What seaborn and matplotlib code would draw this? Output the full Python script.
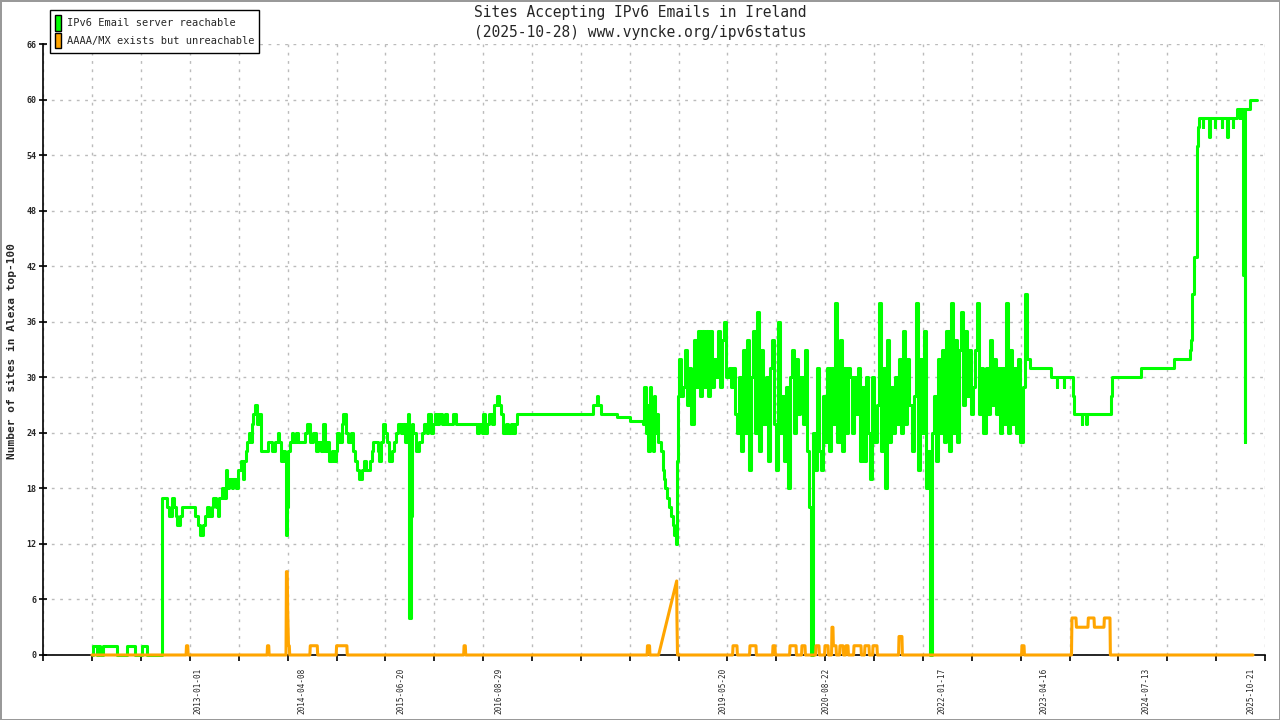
import numpy as np
import pandas as pd
import seaborn as sns
import matplotlib.pyplot as plt
from matplotlib.patches import Patch

# data, x in decimal years
green_early_years = [2011.72, 2011.722, 2011.765, 2011.77, 2011.78, 2011.805, 2011.81, 2011.84, 2011.845,
                     2012.01, 2012.015, 2012.13, 2012.135, 2012.23, 2012.235, 2012.31, 2012.315, 2012.38,
                     2012.385, 2012.56,
                     2012.566, 2012.627, 2012.651, 2012.679, 2012.708, 2012.728, 2012.748, 2012.781, 2012.801,
                     2012.963, 2013.004, 2013.024, 2013.056, 2013.085, 2013.105, 2013.137, 2013.166, 2013.186,
                     2013.218, 2013.239, 2013.259, 2013.287, 2013.316, 2013.336, 2013.356, 2013.381, 2013.409,
                     2013.429, 2013.462, 2013.49, 2013.518, 2013.543, 2013.559, 2013.579, 2013.599, 2013.616,
                     2013.64, 2013.652, 2013.672, 2013.693, 2013.721, 2013.741, 2013.761, 2013.786, 2013.834,
                     2013.855, 2013.895, 2013.936, 2013.968, 2013.988, 2014.009, 2014.037, 2014.057, 2014.073,
                     2014.086, 2014.098, 2014.118, 2014.139, 2014.159, 2014.191, 2014.22, 2014.26, 2014.301,
                     2014.329, 2014.361, 2014.402, 2014.434, 2014.463, 2014.491, 2014.515, 2014.544, 2014.572,
                     2014.596, 2014.625, 2014.653, 2014.677, 2014.694, 2014.718, 2014.746, 2014.767, 2014.795,
                     2014.827, 2014.856, 2014.88, 2014.908, 2014.937, 2014.961, 2014.99, 2015.018, 2015.042,
                     2015.091, 2015.111, 2015.131, 2015.192, 2015.204, 2015.224, 2015.245, 2015.273, 2015.301,
                     2015.326, 2015.354, 2015.382, 2015.407, 2015.435, 2015.464, 2015.488, 2015.516, 2015.536,
                     2015.557, 2015.569, 2015.585, 2015.597, 2015.618, 2015.65, 2015.69, 2015.719, 2015.747,
                     2015.779, 2015.8, 2015.828, 2015.853, 2015.881, 2015.909, 2015.934, 2015.962, 2016.003,
                     2016.031, 2016.063, 2016.104, 2016.137, 2016.225, 2016.266, 2016.388, 2016.42, 2016.448,
                     2016.468, 2016.489, 2016.517, 2016.541, 2016.57, 2016.598, 2016.63,
                     2016.664, 2016.685, 2016.713, 2016.745, 2016.774, 2016.802, 2016.826, 2016.855, 2016.875,
                     2017.787, 2017.807, 2017.847, 2017.868, 2017.896, 2017.95, 2018.1, 2018.25, 2018.415,
                     2018.423, 2018.443, 2018.455, 2018.476, 2018.496, 2018.512, 2018.528, 2018.545, 2018.561,
                     2018.577, 2018.597, 2018.617, 2018.633, 2018.65, 2018.664, 2018.678, 2018.692, 2018.707,
                     2018.723, 2018.739, 2018.755, 2018.771, 2018.785, 2018.8, 2018.812, 2018.82, 2018.832]
green_early_vals = [0, 1, 1, 0, 1, 1, 0, 0, 1,
                    1, 0, 0, 1, 1, 0, 0, 1, 1,
                    0, 0,
                    17, 16, 15, 17, 16, 15, 14, 15, 16,
                    15, 14, 13, 14, 15, 16, 15, 16, 17,
                    16, 15, 17, 18, 17, 20, 18, 19, 18,
                    19, 18, 20, 21, 19, 21, 22, 23, 24,
                    23, 25, 26, 27, 25, 26, 22, 22, 22,
                    23, 22, 23, 24, 23, 21, 22, 21, 13,
                    16, 22, 23, 24, 23, 24, 23, 23, 24,
                    25, 23, 24, 22, 23, 22, 25, 22, 23,
                    21, 22, 21, 22, 24, 23, 25, 26, 24,
                    23, 24, 22, 21, 20, 19, 20, 21, 20,
                    21, 22, 23, 22, 21, 23, 25, 24, 23,
                    21, 22, 23, 24, 25, 24, 25, 23, 25,
                    26, 4, 15, 25, 24, 22, 23, 24, 25,
                    24, 26, 24, 25, 26, 25, 26, 25, 26,
                    25, 25, 26, 25, 25, 25, 24, 25, 24,
                    26, 24, 25, 26, 25, 27, 28,
                    27, 26, 24, 25, 24, 25, 24, 25, 26,
                    26, 27, 28, 27, 26, 26, 25.7, 25.3, 25,
                    29, 24, 27, 22, 29, 24, 22, 28, 24,
                    26, 23, 23, 22, 20, 19, 18, 18, 17,
                    16, 16, 15, 14, 13, 13, 12, 21, 28]

# dense daily-ish part 2018.85 .. 2023.10
noisy_start = 2018.85
noisy_step = 0.025
noisy_vals = [32, 28, 29, 33, 27, 31, 25, 34, 29, 35,
              28, 35, 29, 35, 28, 35, 29, 32, 30, 35,
              29, 34, 36, 30, 31, 29, 31, 26, 24, 30,
              22, 33, 24, 34, 20, 30, 35, 24, 37, 22,
              33, 25, 30, 21, 31, 34, 25, 20, 36, 24,
              28, 21, 29, 18, 30, 33, 24, 32, 26, 30,
              25, 33, 22, 16, 0, 24, 20, 31, 22, 20,
              28, 23, 31, 22, 31, 25, 38, 23, 34, 22,
              31, 24, 31, 30, 24, 30, 26, 31, 21, 29,
              21, 30, 24, 19, 30, 23, 27, 38, 22, 31,
              18, 34, 23, 29, 24, 30, 25, 32, 24, 35,
              25, 32, 27, 22, 28, 38, 20, 32, 24, 35,
              18, 22, 0, 24, 28, 21, 32, 24, 33, 23,
              35, 22, 38, 24, 34, 23, 33, 37, 27, 35,
              28, 33, 26, 29, 33, 38, 26, 31, 24, 31,
              26, 34, 27, 32, 26, 31, 24, 31, 25, 38,
              24, 33, 25, 31, 24, 32, 23, 29, 39, 32, 32]

green_tail_years = [2023.12, 2023.36, 2023.37, 2023.44, 2023.443, 2023.45, 2023.52, 2023.526, 2023.533,
                    2023.625, 2023.633, 2023.645, 2023.652, 2023.74, 2023.744, 2023.75, 2023.795, 2023.798,
                    2023.805, 2024.09, 2024.095, 2024.105, 2024.11, 2024.46, 2024.468, 2024.855, 2024.87,
                    2025.05, 2025.06, 2025.072, 2025.085, 2025.09, 2025.105, 2025.11, 2025.135, 2025.145,
                    2025.155, 2025.17, 2025.21, 2025.215, 2025.22, 2025.29, 2025.298, 2025.305, 2025.36,
                    2025.365, 2025.37, 2025.44, 2025.445, 2025.45, 2025.51, 2025.516, 2025.522, 2025.575,
                    2025.578, 2025.585, 2025.625, 2025.63, 2025.665, 2025.669, 2025.675, 2025.698, 2025.705,
                    2025.72, 2025.726, 2025.735, 2025.77, 2025.79, 2025.875]
green_tail_vals = [31, 31, 30, 30, 29, 30, 30, 29, 30,
                   30, 28, 28, 26, 26, 25, 26, 26, 25,
                   26, 26, 28, 28, 30, 30, 31, 31, 32,
                   32, 33, 34, 34, 39, 39, 43, 43, 55,
                   57, 58, 58, 57, 58, 58, 56, 58, 58,
                   57, 58, 58, 57, 58, 58, 56, 58, 58,
                   57, 58, 58, 59, 59, 58, 59, 59, 41,
                   41, 23, 59, 59, 60, 60]

orange_years = [2011.71, 2012.855, 2012.86, 2012.875, 2012.88,
                2013.84, 2013.845, 2013.86, 2013.865,
                2014.07, 2014.075, 2014.085, 2014.09, 2014.1, 2014.11, 2014.115,
                2014.36, 2014.365, 2014.45, 2014.455,
                2014.68, 2014.685, 2014.81, 2014.815,
                2016.23, 2016.235, 2016.25, 2016.255,
                2018.46, 2018.465, 2018.49, 2018.495,
                2018.6, 2018.82, 2018.823, 2018.83,
                2019.50, 2019.505, 2019.553, 2019.558,
                2019.706, 2019.711, 2019.784, 2019.789,
                2019.986, 2019.991, 2020.015, 2020.02,
                2020.193, 2020.198, 2020.271, 2020.276,
                2020.338, 2020.343, 2020.38, 2020.385,
                2020.509, 2020.514, 2020.55, 2020.555,
                2020.618, 2020.623, 2020.66, 2020.665,
                2020.703, 2020.708, 2020.72, 2020.725, 2020.757, 2020.762,
                2020.8, 2020.805, 2020.842, 2020.847,
                2020.873, 2020.878, 2020.903, 2020.908,
                2020.971, 2020.976, 2021.061, 2021.066,
                2021.104, 2021.109, 2021.158, 2021.163,
                2021.202, 2021.207, 2021.255, 2021.26,
                2021.518, 2021.523, 2021.559, 2021.564,
                2023.013, 2023.018, 2023.043, 2023.048,
                2023.62, 2023.626, 2023.675, 2023.68, 2023.82, 2023.825,
                2023.894, 2023.899, 2024.015, 2024.02, 2024.088, 2024.093,
                2025.827]
orange_vals = [0, 0, 1, 1, 0,
               0, 1, 1, 0,
               0, 9, 9, 5, 1, 1, 0,
               0, 1, 1, 0,
               0, 1, 1, 0,
               0, 1, 1, 0,
               0, 1, 1, 0,
               0, 8, 4, 0,
               0, 1, 1, 0,
               0, 1, 1, 0,
               0, 1, 1, 0,
               0, 1, 1, 0,
               0, 1, 1, 0,
               0, 1, 1, 0,
               0, 1, 1, 0,
               0, 3, 3, 1, 1, 0,
               0, 1, 1, 0,
               0, 1, 1, 0,
               0, 1, 1, 0,
               0, 1, 1, 0,
               0, 1, 1, 0,
               0, 2, 2, 0,
               0, 1, 1, 0,
               0, 4, 4, 3, 3, 4,
               4, 3, 3, 4, 4, 0,
               0]

date_labels = ["2013-01-01", "2014-04-08", "2015-06-20", "2016-08-29", "2019-05-20",
               "2020-08-22", "2022-01-17", "2023-04-16", "2024-07-13", "2025-10-21"]


def dec_year(s):
    d = pd.Timestamp(s)
    return d.year + (d.dayofyear - 1) / 365.25


noisy_years = list(np.round(noisy_start + noisy_step * np.arange(len(noisy_vals)), 3))
green = pd.DataFrame({
    "year": green_early_years + noisy_years + green_tail_years,
    "sites": green_early_vals + noisy_vals + green_tail_vals,
})
orange = pd.DataFrame({"year": orange_years, "sites": orange_vals})

sns.set_theme(style="ticks")
plt.rcParams['font.family'] = ['DejaVu Sans Mono', 'DejaVu Sans']

fig = plt.figure(figsize=(12.8, 7.2), dpi=100)
fig.patch.set_linewidth(2)
ax = fig.add_axes([43.3 / 1280, 65 / 720, (1265 - 43.3) / 1280, 611 / 720])

sns.lineplot(data=green, x="year", y="sites", ax=ax, color="#00ff00", linewidth=2.2,
             estimator=None, sort=False, drawstyle="steps-post", zorder=3, clip_on=False)
sns.lineplot(data=orange, x="year", y="sites", ax=ax, color="#ffa500", linewidth=2.2,
             estimator=None, sort=False, zorder=4, clip_on=False)

xmin, xmax = 2011.119, 2025.973
ax.set_xlim(xmin, xmax)
ax.set_ylim(0, 66)
ax.set_yticks(range(0, 67, 6))
ax.set_xticks([dec_year(s) for s in date_labels])
ax.set_xticklabels(date_labels, rotation=90, fontsize=5.5)
ax.set_xticks(np.linspace(xmin, xmax, 26), minor=True)
ax.set_xlabel("")
ax.set_ylabel("")

ax.tick_params(axis="x", which="major", length=0, pad=9)
ax.tick_params(axis="x", which="minor", direction="out", length=4, width=1.2, color="black")
ax.tick_params(axis="y", direction="inout", length=6, width=1.2, labelsize=6, pad=2, color="black")
for lab in ax.get_yticklabels():
    lab.set_fontweight("bold")

ax.grid(False)
ax.yaxis.grid(True, linestyle=(0, (2, 4)), color="#bbbbbb", linewidth=1)
ax.xaxis.grid(True, which="minor", linestyle=(0, (2, 4)), color="#bbbbbb", linewidth=1)
ax.set_axisbelow(True)

for side in ["top", "right"]:
    ax.spines[side].set_visible(False)
for side in ["left", "bottom"]:
    ax.spines[side].set_color("black")
    ax.spines[side].set_linewidth(1.2)

fig.text(0.5, 1 - 13 / 720, "Sites Accepting IPv6 Emails in Ireland",
         ha="center", va="center", fontsize=10.5)
fig.text(0.5, 1 - 32 / 720, "(2025-10-28) www.vyncke.org/ipv6status",
         ha="center", va="center", fontsize=10.5)
fig.text(12 / 1280, 1 - 351 / 720, "Number of sites in Alexa top-100", rotation=90,
         ha="center", va="center", fontsize=8, fontweight="bold")

handles = [Patch(facecolor="#00ff00", edgecolor="black", label="IPv6 Email server reachable"),
           Patch(facecolor="#ffa500", edgecolor="black", label="AAAA/MX exists but unreachable")]
leg = fig.legend(handles=handles, loc="upper left", bbox_to_anchor=(50 / 1280, 1 - 10 / 720),
                 frameon=True, fancybox=False, edgecolor="black", framealpha=1, fontsize=7.5,
                 handlelength=0.6, handleheight=1.9, borderpad=0.5, labelspacing=0.2,
                 handletextpad=0.5, borderaxespad=0)
leg.get_frame().set_linewidth(1)

fig.savefig("out.png", dpi=100, facecolor="white", edgecolor="#999999")
